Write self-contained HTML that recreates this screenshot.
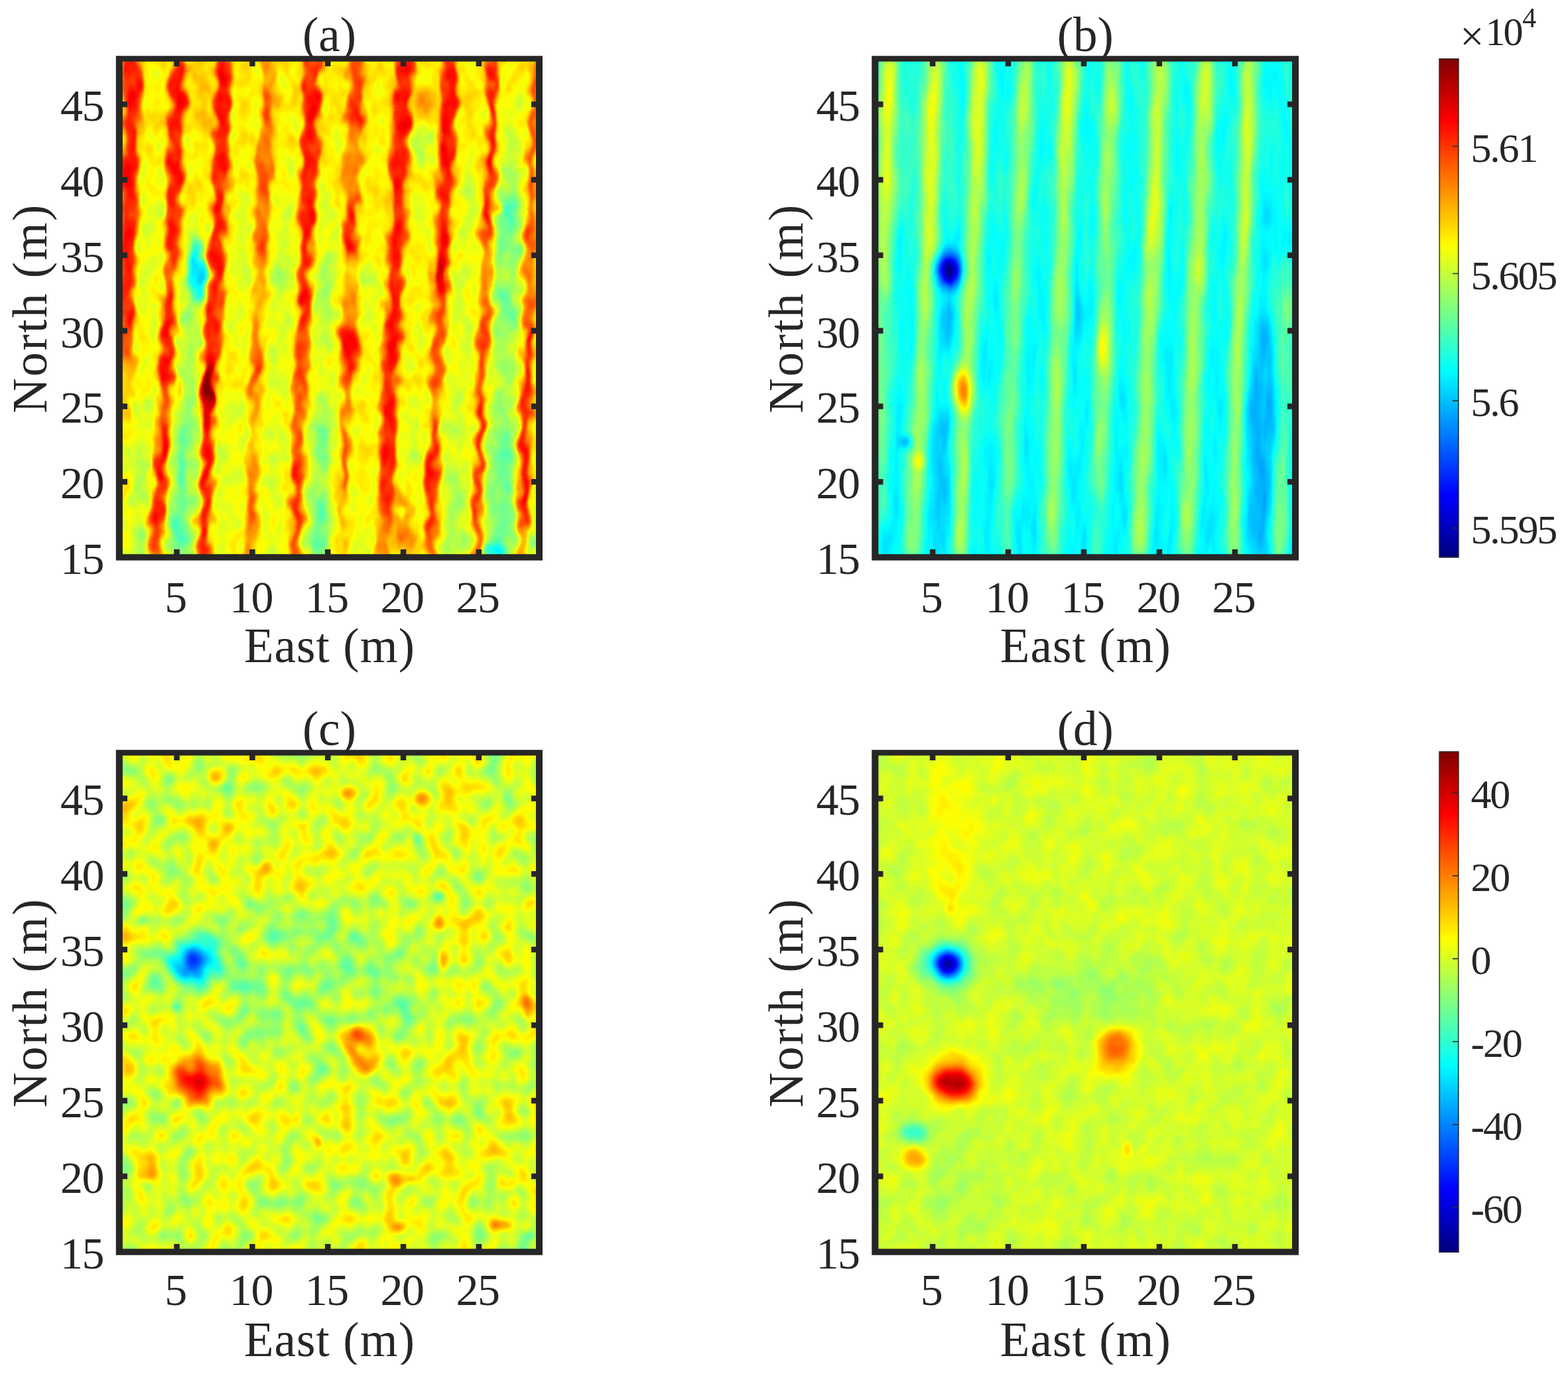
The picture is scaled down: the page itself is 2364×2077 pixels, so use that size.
<!DOCTYPE html>
<html lang="en"><head><meta charset="utf-8"><title>Figure</title>
<style>html,body{margin:0;padding:0;background:#fff}svg{display:block}text{font-family:"Liberation Serif", "DejaVu Serif", serif;fill:#262626}</style></head><body>
<svg width="2364" height="2077" viewBox="0 0 2364 2077" role="img" aria-label="Four-panel magnetic survey map figure">
<defs>
<filter id="jet" filterUnits="userSpaceOnUse" x="2160" y="80" width="50" height="1820" color-interpolation-filters="sRGB"><feComponentTransfer><feFuncR type="table" tableValues="0 0 0 0 .5 1 1 1 .5"/><feFuncG type="table" tableValues="0 0 .5 1 1 1 .5 0 0"/><feFuncB type="table" tableValues=".5 1 1 1 .5 0 0 0 0"/></feComponentTransfer></filter>
<linearGradient id="cbg" x1="0" y1="0" x2="0" y2="1"><stop offset="0" stop-color="#fff"/><stop offset="1" stop-color="#000"/></linearGradient>
<clipPath id="cpa"><rect x="180" y="89" width="633" height="751"/></clipPath>
<clipPath id="cpb"><rect x="1319.5" y="89" width="633.5" height="751"/></clipPath>
<clipPath id="cpc"><rect x="180" y="1135" width="633" height="752"/></clipPath>
<clipPath id="cpd"><rect x="1319.5" y="1135" width="633.5" height="752"/></clipPath>
<linearGradient id="basea" x1="0" y1="89" x2="0" y2="840" gradientUnits="userSpaceOnUse"><stop offset="0" stop-color="#a3a3a3"/><stop offset="1" stop-color="#9e9e9e"/></linearGradient>
<filter id="ja" filterUnits="userSpaceOnUse" x="178" y="87" width="637" height="755" color-interpolation-filters="sRGB"><feTurbulence type="fractalNoise" baseFrequency="0.05 0.03" numOctaves="2" seed="7" result="n0"/><feColorMatrix in="n0" type="matrix" values="1 0 0 0 0 1 0 0 0 0 1 0 0 0 0 0 0 0 0 1" result="g0"/><feComposite in="SourceGraphic" in2="g0" operator="arithmetic" k1="0" k2="1" k3="0.13" k4="-0.065" result="s0"/><feComponentTransfer in="s0"><feFuncR type="table" tableValues="0 0 0 0 .5 1 1 1 .5"/><feFuncG type="table" tableValues="0 0 .5 1 1 1 .5 0 0"/><feFuncB type="table" tableValues=".5 1 1 1 .5 0 0 0 0"/></feComponentTransfer></filter>
<linearGradient id="baseb" x1="0" y1="89" x2="0" y2="840" gradientUnits="userSpaceOnUse"><stop offset="0" stop-color="#656565"/><stop offset="1" stop-color="#5e5e5e"/></linearGradient>
<filter id="jb" filterUnits="userSpaceOnUse" x="1317.5" y="87" width="637.5" height="755" color-interpolation-filters="sRGB"><feTurbulence type="fractalNoise" baseFrequency="0.07 0.012" numOctaves="2" seed="11" result="n0"/><feColorMatrix in="n0" type="matrix" values="1 0 0 0 0 1 0 0 0 0 1 0 0 0 0 0 0 0 0 1" result="g0"/><feComposite in="SourceGraphic" in2="g0" operator="arithmetic" k1="0" k2="1" k3="0.09" k4="-0.045" result="s0"/><feComponentTransfer in="s0"><feFuncR type="table" tableValues="0 0 0 0 .5 1 1 1 .5"/><feFuncG type="table" tableValues="0 0 .5 1 1 1 .5 0 0"/><feFuncB type="table" tableValues=".5 1 1 1 .5 0 0 0 0"/></feComponentTransfer></filter>
<linearGradient id="basec" x1="0" y1="1135" x2="0" y2="1887" gradientUnits="userSpaceOnUse"><stop offset="0" stop-color="#999999"/><stop offset="1" stop-color="#969696"/></linearGradient>
<filter id="jc" filterUnits="userSpaceOnUse" x="178" y="1133" width="637" height="756" color-interpolation-filters="sRGB"><feTurbulence type="fractalNoise" baseFrequency="0.045 0.04" numOctaves="1" seed="12" result="n0"/><feColorMatrix in="n0" type="matrix" values="1 0 0 0 0 1 0 0 0 0 1 0 0 0 0 0 0 0 0 1" result="g0"/><feComposite in="SourceGraphic" in2="g0" operator="arithmetic" k1="0" k2="1" k3="0.28" k4="-0.14" result="s0"/><feTurbulence type="fractalNoise" baseFrequency="0.014 0.014" numOctaves="1" seed="2" result="n1"/><feColorMatrix in="n1" type="matrix" values="1 0 0 0 0 1 0 0 0 0 1 0 0 0 0 0 0 0 0 1" result="g1"/><feComposite in="s0" in2="g1" operator="arithmetic" k1="0" k2="1" k3="0.16" k4="-0.08" result="s1"/><feComponentTransfer in="s1"><feFuncR type="table" tableValues="0 0 0 0 .5 1 1 1 .5"/><feFuncG type="table" tableValues="0 0 .5 1 1 1 .5 0 0"/><feFuncB type="table" tableValues=".5 1 1 1 .5 0 0 0 0"/></feComponentTransfer></filter>
<linearGradient id="based" x1="0" y1="1135" x2="0" y2="1887" gradientUnits="userSpaceOnUse"><stop offset="0" stop-color="#959595"/><stop offset="1" stop-color="#949494"/></linearGradient>
<filter id="jd" filterUnits="userSpaceOnUse" x="1317.5" y="1133" width="637.5" height="756" color-interpolation-filters="sRGB"><feTurbulence type="fractalNoise" baseFrequency="0.035 0.03" numOctaves="2" seed="9" result="n0"/><feColorMatrix in="n0" type="matrix" values="1 0 0 0 0 1 0 0 0 0 1 0 0 0 0 0 0 0 0 1" result="g0"/><feComposite in="SourceGraphic" in2="g0" operator="arithmetic" k1="0" k2="1" k3="0.1" k4="-0.05" result="s0"/><feComponentTransfer in="s0"><feFuncR type="table" tableValues="0 0 0 0 .5 1 1 1 .5"/><feFuncG type="table" tableValues="0 0 .5 1 1 1 .5 0 0"/><feFuncB type="table" tableValues=".5 1 1 1 .5 0 0 0 0"/></feComponentTransfer></filter>
<filter id="bl3_5_9" filterUnits="userSpaceOnUse" x="0" y="0" width="2364" height="2077" color-interpolation-filters="sRGB"><feGaussianBlur stdDeviation="3.5 9"/></filter>
<filter id="bl4_4" filterUnits="userSpaceOnUse" x="0" y="0" width="2364" height="2077" color-interpolation-filters="sRGB"><feGaussianBlur stdDeviation="4 4"/></filter>
<filter id="bl4_5" filterUnits="userSpaceOnUse" x="0" y="0" width="2364" height="2077" color-interpolation-filters="sRGB"><feGaussianBlur stdDeviation="4 5"/></filter>
<filter id="bl4_5_5" filterUnits="userSpaceOnUse" x="0" y="0" width="2364" height="2077" color-interpolation-filters="sRGB"><feGaussianBlur stdDeviation="4.5 5"/></filter>
<filter id="bl4_5_9" filterUnits="userSpaceOnUse" x="0" y="0" width="2364" height="2077" color-interpolation-filters="sRGB"><feGaussianBlur stdDeviation="4.5 9"/></filter>
<filter id="bl4_5_12" filterUnits="userSpaceOnUse" x="0" y="0" width="2364" height="2077" color-interpolation-filters="sRGB"><feGaussianBlur stdDeviation="4.5 12"/></filter>
<filter id="bl5_5" filterUnits="userSpaceOnUse" x="0" y="0" width="2364" height="2077" color-interpolation-filters="sRGB"><feGaussianBlur stdDeviation="5 5"/></filter>
<filter id="bl5_6" filterUnits="userSpaceOnUse" x="0" y="0" width="2364" height="2077" color-interpolation-filters="sRGB"><feGaussianBlur stdDeviation="5 6"/></filter>
<filter id="bl5_8" filterUnits="userSpaceOnUse" x="0" y="0" width="2364" height="2077" color-interpolation-filters="sRGB"><feGaussianBlur stdDeviation="5 8"/></filter>
<filter id="bl6_6" filterUnits="userSpaceOnUse" x="0" y="0" width="2364" height="2077" color-interpolation-filters="sRGB"><feGaussianBlur stdDeviation="6 6"/></filter>
<filter id="bl6_8" filterUnits="userSpaceOnUse" x="0" y="0" width="2364" height="2077" color-interpolation-filters="sRGB"><feGaussianBlur stdDeviation="6 8"/></filter>
<filter id="bl6_9" filterUnits="userSpaceOnUse" x="0" y="0" width="2364" height="2077" color-interpolation-filters="sRGB"><feGaussianBlur stdDeviation="6 9"/></filter>
<filter id="bl6_10" filterUnits="userSpaceOnUse" x="0" y="0" width="2364" height="2077" color-interpolation-filters="sRGB"><feGaussianBlur stdDeviation="6 10"/></filter>
<filter id="bl7_7" filterUnits="userSpaceOnUse" x="0" y="0" width="2364" height="2077" color-interpolation-filters="sRGB"><feGaussianBlur stdDeviation="7 7"/></filter>
<filter id="bl7_8" filterUnits="userSpaceOnUse" x="0" y="0" width="2364" height="2077" color-interpolation-filters="sRGB"><feGaussianBlur stdDeviation="7 8"/></filter>
<filter id="bl7_12" filterUnits="userSpaceOnUse" x="0" y="0" width="2364" height="2077" color-interpolation-filters="sRGB"><feGaussianBlur stdDeviation="7 12"/></filter>
<filter id="bl7_14" filterUnits="userSpaceOnUse" x="0" y="0" width="2364" height="2077" color-interpolation-filters="sRGB"><feGaussianBlur stdDeviation="7 14"/></filter>
<filter id="bl8_8" filterUnits="userSpaceOnUse" x="0" y="0" width="2364" height="2077" color-interpolation-filters="sRGB"><feGaussianBlur stdDeviation="8 8"/></filter>
<filter id="bl9_9" filterUnits="userSpaceOnUse" x="0" y="0" width="2364" height="2077" color-interpolation-filters="sRGB"><feGaussianBlur stdDeviation="9 9"/></filter>
<filter id="bl9_14" filterUnits="userSpaceOnUse" x="0" y="0" width="2364" height="2077" color-interpolation-filters="sRGB"><feGaussianBlur stdDeviation="9 14"/></filter>
<filter id="bl10_10" filterUnits="userSpaceOnUse" x="0" y="0" width="2364" height="2077" color-interpolation-filters="sRGB"><feGaussianBlur stdDeviation="10 10"/></filter>
<filter id="bl12_12" filterUnits="userSpaceOnUse" x="0" y="0" width="2364" height="2077" color-interpolation-filters="sRGB"><feGaussianBlur stdDeviation="12 12"/></filter>
<filter id="bl14_20" filterUnits="userSpaceOnUse" x="0" y="0" width="2364" height="2077" color-interpolation-filters="sRGB"><feGaussianBlur stdDeviation="14 20"/></filter>
<filter id="bl15_15" filterUnits="userSpaceOnUse" x="0" y="0" width="2364" height="2077" color-interpolation-filters="sRGB"><feGaussianBlur stdDeviation="15 15"/></filter>
<filter id="bl18_18" filterUnits="userSpaceOnUse" x="0" y="0" width="2364" height="2077" color-interpolation-filters="sRGB"><feGaussianBlur stdDeviation="18 18"/></filter>
<filter id="bl25_25" filterUnits="userSpaceOnUse" x="0" y="0" width="2364" height="2077" color-interpolation-filters="sRGB"><feGaussianBlur stdDeviation="25 25"/></filter>
<filter id="bl30_40" filterUnits="userSpaceOnUse" x="0" y="0" width="2364" height="2077" color-interpolation-filters="sRGB"><feGaussianBlur stdDeviation="30 40"/></filter>
<filter id="bl40_40" filterUnits="userSpaceOnUse" x="0" y="0" width="2364" height="2077" color-interpolation-filters="sRGB"><feGaussianBlur stdDeviation="40 40"/></filter>
<filter id="wa" filterUnits="userSpaceOnUse" x="160" y="69" width="673" height="791" color-interpolation-filters="sRGB"><feTurbulence type="fractalNoise" baseFrequency="0.055 0.035" numOctaves="1" seed="4" result="t"/><feDisplacementMap in="SourceGraphic" in2="t" scale="26" xChannelSelector="R" yChannelSelector="G"/></filter>
<filter id="wb" filterUnits="userSpaceOnUse" x="1299.5" y="69" width="673.5" height="791" color-interpolation-filters="sRGB"><feTurbulence type="fractalNoise" baseFrequency="0.05 0.02" numOctaves="1" seed="8" result="t"/><feDisplacementMap in="SourceGraphic" in2="t" scale="6" xChannelSelector="R" yChannelSelector="G"/></filter>
</defs>
<rect width="2364" height="2077" fill="#fff"/>
<g id="panel-a">
<g clip-path="url(#cpa)"><g filter="url(#ja)">
<rect x="150" y="59" width="693" height="811" fill="url(#basea)"/>
<g filter="url(#wa)">
<g filter="url(#bl3_5_9)" fill="none">
<path stroke="#fff" stroke-opacity=".59" stroke-width="27" d="M201.4 80L201 93L193.2 335"/>
<path stroke="#fff" stroke-opacity=".59" stroke-width="24" d="M193.2 335L193 340L190 491"/>
<path stroke="#fff" stroke-opacity=".46" stroke-width="24" d="M190 491L188.9 543"/>
<path stroke="#fff" stroke-opacity=".17" stroke-width="24" d="M188.9 543L188.1 585"/>
<path stroke="#fff" stroke-opacity=".17" stroke-width="21" d="M188.1 585L188 590L187 637"/>
<path stroke="#fff" stroke-opacity=".59" stroke-width="24" d="M268.9 80L268.5 93L261.2 335"/>
<path stroke="#fff" stroke-opacity=".59" stroke-width="21" d="M261.2 335L261 340L258.7 387"/>
<path stroke="#fff" stroke-opacity=".46" stroke-width="21" d="M258.7 387L256.2 439"/>
<path stroke="#fff" stroke-opacity=".60" stroke-width="21" d="M256.2 439L249.2 585"/>
<path stroke="#fff" stroke-opacity=".46" stroke-width="18" d="M249.2 585L249 590L246.3 637"/>
<path stroke="#fff" stroke-opacity=".60" stroke-width="18" d="M246.3 637L237.4 793"/>
<path stroke="#fff" stroke-opacity=".47" stroke-width="18" d="M237.4 793L235 835L234.4 845"/>
<path stroke="#fff" stroke-opacity=".59" stroke-width="24" d="M338.4 80L338 93L330.2 335"/>
<path stroke="#fff" stroke-opacity=".59" stroke-width="21" d="M330.2 335L330 340L317.8 543"/>
<path stroke="#fff" stroke-opacity=".81" stroke-width="21" d="M317.8 543L315.3 585"/>
<path stroke="#fff" stroke-opacity=".81" stroke-width="18" d="M315.3 585L315 590L313.5 637"/>
<path stroke="#fff" stroke-opacity=".60" stroke-width="18" d="M313.5 637L307 835L306.7 845"/>
<path stroke="#fff" stroke-opacity=".28" stroke-width="21" d="M407.6 80L407 93L405 137"/>
<path stroke="#fff" stroke-opacity=".45" stroke-width="21" d="M405 137L402.7 189"/>
<path stroke="#fff" stroke-opacity=".28" stroke-width="21" d="M402.7 189L400.4 241"/>
<path stroke="#fff" stroke-opacity=".45" stroke-width="21" d="M400.4 241L398.1 293"/>
<path stroke="#fff" stroke-opacity=".29" stroke-width="21" d="M398.1 293L396.2 335"/>
<path stroke="#fff" stroke-opacity=".46" stroke-width="18" d="M396.2 335L396 340L393.7 387"/>
<path stroke="#fff" stroke-opacity=".29" stroke-width="18" d="M393.7 387L391.2 439"/>
<path stroke="#fff" stroke-opacity=".16" stroke-width="18" d="M391.2 439L388.8 491"/>
<path stroke="#fff" stroke-opacity=".30" stroke-width="18" d="M388.8 491L386.3 543"/>
<path stroke="#fff" stroke-opacity=".46" stroke-width="18" d="M386.3 543L384.2 585"/>
<path stroke="#fff" stroke-opacity=".30" stroke-width="15" d="M384.2 585L384 590L382.3 637"/>
<path stroke="#fff" stroke-opacity=".17" stroke-width="15" d="M382.3 637L380.4 689"/>
<path stroke="#fff" stroke-opacity=".31" stroke-width="15" d="M380.4 689L378.5 741"/>
<path stroke="#fff" stroke-opacity=".47" stroke-width="15" d="M378.5 741L376.5 793"/>
<path stroke="#fff" stroke-opacity=".32" stroke-width="15" d="M376.5 793L375 835L374.6 845"/>
<path stroke="#fff" stroke-opacity=".59" stroke-width="24" d="M472.5 80L472 93L463.2 335"/>
<path stroke="#fff" stroke-opacity=".59" stroke-width="18" d="M463.2 335L463 340L457 491"/>
<path stroke="#fff" stroke-opacity=".46" stroke-width="18" d="M457 491L453.2 585"/>
<path stroke="#fff" stroke-opacity=".47" stroke-width="15" d="M453.2 585L453 590L449.6 689"/>
<path stroke="#fff" stroke-opacity=".60" stroke-width="15" d="M449.6 689L446 793"/>
<path stroke="#fff" stroke-opacity=".47" stroke-width="15" d="M446 793L444.5 835L444.2 845"/>
<path stroke="#fff" stroke-opacity=".45" stroke-width="21" d="M538.5 80L538 93L536.3 137"/>
<path stroke="#fff" stroke-opacity=".59" stroke-width="21" d="M536.3 137L534.3 189"/>
<path stroke="#fff" stroke-opacity=".29" stroke-width="21" d="M534.3 189L530.3 293"/>
<path stroke="#fff" stroke-opacity=".59" stroke-width="21" d="M530.3 293L528.5 340L527.5 387"/>
<path stroke="#fff" stroke-opacity=".16" stroke-width="21" d="M527.5 387L526.3 439"/>
<path stroke="#fff" stroke-opacity=".30" stroke-width="21" d="M526.3 439L525.2 491"/>
<path stroke="#fff" stroke-opacity=".46" stroke-width="21" d="M525.2 491L523.1 585"/>
<path stroke="#fff" stroke-opacity=".30" stroke-width="12" d="M523.1 585L523 590L521.3 637"/>
<path stroke="#fff" stroke-opacity=".47" stroke-width="12" d="M521.3 637L517.5 741"/>
<path stroke="#fff" stroke-opacity=".18" stroke-width="12" d="M517.5 741L514 835L513.6 845"/>
<path stroke="#fff" stroke-opacity=".59" stroke-width="27" d="M609.5 80L609 93L599.7 335"/>
<path stroke="#fff" stroke-opacity=".59" stroke-width="24" d="M599.7 335L599.5 340L588.2 585"/>
<path stroke="#fff" stroke-opacity=".60" stroke-width="21" d="M588.2 585L588 590L581.2 741"/>
<path stroke="#fff" stroke-opacity=".47" stroke-width="21" d="M581.2 741L578.9 793"/>
<path stroke="#fff" stroke-opacity=".32" stroke-width="21" d="M578.9 793L577 835L576.6 845"/>
<path stroke="#fff" stroke-opacity=".59" stroke-width="24" d="M679 80L678.5 93L669.2 335"/>
<path stroke="#fff" stroke-opacity=".59" stroke-width="18" d="M669.2 335L669 340L666.7 387"/>
<path stroke="#fff" stroke-opacity=".81" stroke-width="18" d="M666.7 387L664.2 439"/>
<path stroke="#fff" stroke-opacity=".46" stroke-width="18" d="M664.2 439L657.2 585"/>
<path stroke="#fff" stroke-opacity=".30" stroke-width="15" d="M657.2 585L657 590L655.3 637"/>
<path stroke="#fff" stroke-opacity=".60" stroke-width="15" d="M655.3 637L649.5 793"/>
<path stroke="#fff" stroke-opacity=".47" stroke-width="15" d="M649.5 793L648 835L647.6 845"/>
<path stroke="#fff" stroke-opacity=".59" stroke-width="15" d="M745.5 80L745 93L736.2 335"/>
<path stroke="#fff" stroke-opacity=".46" stroke-width="15" d="M736.2 335L736 340L733.9 387"/>
<path stroke="#fff" stroke-opacity=".29" stroke-width="15" d="M733.9 387L731.6 439"/>
<path stroke="#fff" stroke-opacity=".46" stroke-width="15" d="M731.6 439L725.2 585"/>
<path stroke="#fff" stroke-opacity=".60" stroke-width="12" d="M725.2 585L725 590L720 793"/>
<path stroke="#fff" stroke-opacity=".47" stroke-width="12" d="M720 793L719 835L718.8 845"/>
<path stroke="#fff" stroke-opacity=".45" stroke-width="12" d="M808.4 80L808 93L800.2 335"/>
<path stroke="#fff" stroke-opacity=".46" stroke-width="15" d="M800.2 335L800 340L798.9 387"/>
<path stroke="#fff" stroke-opacity=".29" stroke-width="15" d="M798.9 387L797.6 439"/>
<path stroke="#fff" stroke-opacity=".46" stroke-width="15" d="M797.6 439L796.4 491"/>
<path stroke="#fff" stroke-opacity=".60" stroke-width="15" d="M796.4 491L794 590L788.2 793"/>
<path stroke="#fff" stroke-opacity=".32" stroke-width="15" d="M788.2 793L787 835L786.7 845"/>
</g>
<g filter="url(#bl7_12)" fill="none">
<path stroke="#000" stroke-opacity=".05" stroke-width="26" d="M230.1 241L227 340L221.9 491"/>
<path stroke="#000" stroke-opacity=".04" stroke-width="26" d="M218.7 585L218.5 590L214.7 689"/>
<path stroke="#000" stroke-opacity=".13" stroke-width="26" d="M214.7 689L212.6 741"/>
<path stroke="#000" stroke-opacity=".04" stroke-width="26" d="M212.6 741L210.6 793"/>
<path stroke="#000" stroke-opacity=".12" stroke-width="26" d="M210.6 793L209 835L208.6 845"/>
<path stroke="#fff" stroke-opacity=".11" stroke-width="30" d="M303.7 80L303.2 93L300.2 189"/>
<path stroke="#000" stroke-opacity=".05" stroke-width="30" d="M295.7 335L295.5 340L293 387"/>
<path stroke="#000" stroke-opacity=".13" stroke-width="30" d="M293 387L282 590L279.9 637"/>
<path stroke="#000" stroke-opacity=".23" stroke-width="30" d="M279.9 637L271 835L270.6 845"/>
<path stroke="#000" stroke-opacity=".05" stroke-width="26" d="M364.8 293L363 340L354.8 491"/>
<path stroke="#000" stroke-opacity=".04" stroke-width="26" d="M349.8 585L349.5 590L341 835L340.7 845"/>
<path stroke="#000" stroke-opacity=".05" stroke-width="26" d="M433.5 241L429.5 340L427.4 387"/>
<path stroke="#000" stroke-opacity=".14" stroke-width="26" d="M427.4 387L425.1 439"/>
<path stroke="#000" stroke-opacity=".05" stroke-width="26" d="M425.1 439L418.7 585"/>
<path stroke="#000" stroke-opacity=".04" stroke-width="26" d="M416.8 637L409.8 835L409.4 845"/>
<path stroke="#000" stroke-opacity=".05" stroke-width="28" d="M497.5 293L495.8 340L494.3 387"/>
<path stroke="#000" stroke-opacity=".14" stroke-width="28" d="M494.3 387L491.1 491"/>
<path stroke="#000" stroke-opacity=".04" stroke-width="28" d="M491.1 491L488.2 585"/>
<path stroke="#000" stroke-opacity=".13" stroke-width="28" d="M488.2 585L488 590L486.3 637"/>
<path stroke="#000" stroke-opacity=".23" stroke-width="28" d="M486.3 637L484.5 689"/>
<path stroke="#000" stroke-opacity=".13" stroke-width="28" d="M484.5 689L482.6 741"/>
<path stroke="#000" stroke-opacity=".23" stroke-width="28" d="M482.6 741L479.2 835L478.9 845"/>
<path stroke="#000" stroke-opacity=".05" stroke-width="26" d="M562.4 387L558.9 491"/>
<path stroke="#000" stroke-opacity=".03" stroke-width="26" d="M547.2 793L545.5 835L545.1 845"/>
<path stroke="#fff" stroke-opacity=".23" stroke-width="28" d="M642.1 137L640.1 189"/>
<path stroke="#000" stroke-opacity=".14" stroke-width="28" d="M640.1 189L638.1 241"/>
<path stroke="#000" stroke-opacity=".05" stroke-width="28" d="M636.1 293L634.4 335"/>
<path stroke="#000" stroke-opacity=".04" stroke-width="28" d="M622.7 585L622.5 590L616.3 741"/>
<path stroke="#fff" stroke-opacity=".26" stroke-width="28" d="M614.2 793L612.5 835L612.1 845"/>
<path stroke="#000" stroke-opacity=".05" stroke-width="28" d="M706.2 241L702.5 340L691 590L688 689"/>
<path stroke="#000" stroke-opacity=".12" stroke-width="28" d="M688 689L683.5 835L683.2 845"/>
<path stroke="#000" stroke-opacity=".06" stroke-width="34" d="M775 137L771.4 241"/>
<path stroke="#000" stroke-opacity=".14" stroke-width="34" d="M771.4 241L769.6 293"/>
<path stroke="#000" stroke-opacity=".24" stroke-width="34" d="M769.6 293L768 340L766.4 387"/>
<path stroke="#000" stroke-opacity=".14" stroke-width="34" d="M766.4 387L764.6 439"/>
<path stroke="#000" stroke-opacity=".24" stroke-width="34" d="M764.6 439L762.9 491"/>
<path stroke="#000" stroke-opacity=".13" stroke-width="34" d="M762.9 491L759.5 590L758.3 637"/>
<path stroke="#000" stroke-opacity=".23" stroke-width="34" d="M758.3 637L753 835L752.7 845"/>
</g>
<g filter="url(#bl6_10)" fill="none">
<ellipse fill="#000" fill-opacity=".40" cx="296" cy="408" rx="15" ry="42"/>
</g>
<g filter="url(#bl4_5_9)" fill="none">
<ellipse fill="#fff" fill-opacity=".87" cx="313" cy="585" rx="9" ry="30"/>
<ellipse fill="#fff" fill-opacity=".38" cx="530" cy="522" rx="13" ry="38"/>
</g>
<g filter="url(#bl7_8)" fill="none">
<ellipse fill="#000" fill-opacity=".26" cx="745" cy="830" rx="16" ry="12"/>
<ellipse fill="#000" fill-opacity=".24" cx="801" cy="818" rx="8" ry="14"/>
</g>
<g filter="url(#bl6_8)" fill="none">
<ellipse fill="#fff" fill-opacity=".26" cx="603" cy="770" rx="20" ry="40"/>
</g>
<g filter="url(#bl4_5)" fill="none">
<ellipse fill="#fff" fill-opacity=".28" cx="273" cy="583" rx="7" ry="16"/>
<ellipse fill="#000" fill-opacity=".19" cx="606" cy="773" rx="8" ry="12"/>
</g>
</g>
</g></g>
<path fill="#262626" fill-rule="evenodd" d="M174.8 84.3H818V844.8H174.8ZM184.9 92.8H808V835.2H184.9Z"/>
<path d="M266.5 840.0v-12M266.5 89.0v11M380.4 840.0v-12M380.4 89.0v11M494.2 840.0v-12M494.2 89.0v11M608.1 840.0v-12M608.1 89.0v11M721.9 840.0v-12M721.9 89.0v11M180.0 726.2h12M813.0 726.2h-12M180.0 612.4h12M813.0 612.4h-12M180.0 498.6h12M813.0 498.6h-12M180.0 384.8h12M813.0 384.8h-12M180.0 271.1h12M813.0 271.1h-12M180.0 157.3h12M813.0 157.3h-12" stroke="#262626" stroke-width="8.5" fill="none"/>
<g font-size="68" letter-spacing="-1.5">
<g text-anchor="middle">
<text x="264.5" y="922.5">5</text>
<text x="378.4" y="922.5">10</text>
<text x="492.2" y="922.5">15</text>
<text x="606.1" y="922.5">20</text>
<text x="719.9" y="922.5">25</text>
</g><g text-anchor="end">
<text x="156.0" y="865.0">15</text>
<text x="156.0" y="751.2">20</text>
<text x="156.0" y="637.4">25</text>
<text x="156.0" y="523.6">30</text>
<text x="156.0" y="409.8">35</text>
<text x="156.0" y="296.1">40</text>
<text x="156.0" y="182.3">45</text>
</g></g>
<g font-size="73" text-anchor="middle">
<text x="496.5" y="77.0">(a)</text>
<text x="497.0" y="998.0" letter-spacing="1.1">East (m)</text>
<text transform="translate(70.0 464.5) rotate(-90)" letter-spacing="2.5">North (m)</text>
</g>
</g>
<g id="panel-b">
<g clip-path="url(#cpb)"><g filter="url(#jb)">
<rect x="1289.5" y="59" width="693.5" height="811" fill="url(#baseb)"/>
<g filter="url(#wb)">
<g filter="url(#bl7_14)" fill="none">
<path stroke="#fff" stroke-opacity=".36" stroke-width="24" d="M1341.4 80L1341 93L1337.9 189"/>
<path stroke="#fff" stroke-opacity=".32" stroke-width="24" d="M1337.9 189L1333.2 335"/>
<path stroke="#fff" stroke-opacity=".26" stroke-width="24" d="M1333.2 335L1333 340L1331 439"/>
<path stroke="#fff" stroke-opacity=".19" stroke-width="24" d="M1331 439L1328 590L1326 689"/>
<path stroke="#fff" stroke-opacity=".12" stroke-width="24" d="M1326 689L1323.9 793"/>
<path stroke="#fff" stroke-opacity=".31" stroke-width="24" d="M1408.9 80L1408.5 93L1407.2 137"/>
<path stroke="#fff" stroke-opacity=".36" stroke-width="24" d="M1407.2 137L1405.6 189"/>
<path stroke="#fff" stroke-opacity=".32" stroke-width="24" d="M1405.6 189L1401 340L1398.7 387"/>
<path stroke="#fff" stroke-opacity=".26" stroke-width="24" d="M1398.7 387L1393.8 491"/>
<path stroke="#fff" stroke-opacity=".19" stroke-width="24" d="M1393.8 491L1391.3 543"/>
<path stroke="#fff" stroke-opacity=".27" stroke-width="24" d="M1391.3 543L1389 590L1375 835L1374.4 845"/>
<path stroke="#fff" stroke-opacity=".36" stroke-width="24" d="M1478.4 80L1478 93L1474.9 189"/>
<path stroke="#fff" stroke-opacity=".32" stroke-width="24" d="M1474.9 189L1470.2 335"/>
<path stroke="#fff" stroke-opacity=".27" stroke-width="24" d="M1470.2 335L1470 340L1455 590L1447 835L1446.7 845"/>
<path stroke="#fff" stroke-opacity=".25" stroke-width="22" d="M1547.6 80L1547 93L1545 137"/>
<path stroke="#fff" stroke-opacity=".32" stroke-width="22" d="M1545 137L1542.7 189"/>
<path stroke="#fff" stroke-opacity=".26" stroke-width="22" d="M1542.7 189L1536.2 335"/>
<path stroke="#fff" stroke-opacity=".19" stroke-width="22" d="M1536.2 335L1536 340L1533.7 387"/>
<path stroke="#fff" stroke-opacity=".26" stroke-width="22" d="M1533.7 387L1531.2 439"/>
<path stroke="#fff" stroke-opacity=".20" stroke-width="22" d="M1531.2 439L1524 590L1518.5 741"/>
<path stroke="#fff" stroke-opacity=".13" stroke-width="22" d="M1518.5 741L1515 835L1514.6 845"/>
<path stroke="#fff" stroke-opacity=".36" stroke-width="24" d="M1612.5 80L1612 93L1608.5 189"/>
<path stroke="#fff" stroke-opacity=".32" stroke-width="24" d="M1608.5 189L1604.7 293"/>
<path stroke="#fff" stroke-opacity=".26" stroke-width="24" d="M1604.7 293L1603 340L1597 491"/>
<path stroke="#fff" stroke-opacity=".19" stroke-width="24" d="M1597 491L1594.9 543"/>
<path stroke="#fff" stroke-opacity=".27" stroke-width="24" d="M1594.9 543L1593 590L1586 793"/>
<path stroke="#fff" stroke-opacity=".21" stroke-width="24" d="M1586 793L1584.5 835L1584.2 845"/>
<path stroke="#fff" stroke-opacity=".25" stroke-width="22" d="M1678.5 80L1678 93L1676.3 137"/>
<path stroke="#fff" stroke-opacity=".32" stroke-width="22" d="M1676.3 137L1674.3 189"/>
<path stroke="#fff" stroke-opacity=".26" stroke-width="22" d="M1674.3 189L1668.7 335"/>
<path stroke="#fff" stroke-opacity=".19" stroke-width="22" d="M1668.7 335L1668.5 340L1666.3 439"/>
<path stroke="#fff" stroke-opacity=".26" stroke-width="22" d="M1666.3 439L1665.2 491"/>
<path stroke="#fff" stroke-opacity=".33" stroke-width="22" d="M1665.2 491L1664 543"/>
<path stroke="#fff" stroke-opacity=".27" stroke-width="22" d="M1664 543L1663.1 585"/>
<path stroke="#fff" stroke-opacity=".20" stroke-width="22" d="M1663.1 585L1663 590L1661.3 637"/>
<path stroke="#fff" stroke-opacity=".27" stroke-width="22" d="M1661.3 637L1659.4 689"/>
<path stroke="#fff" stroke-opacity=".20" stroke-width="22" d="M1659.4 689L1657.5 741"/>
<path stroke="#fff" stroke-opacity=".13" stroke-width="22" d="M1657.5 741L1654 835L1653.6 845"/>
<path stroke="#fff" stroke-opacity=".32" stroke-width="24" d="M1749.5 80L1749 93L1741.3 293"/>
<path stroke="#fff" stroke-opacity=".36" stroke-width="24" d="M1741.3 293L1739.5 340L1737.3 387"/>
<path stroke="#fff" stroke-opacity=".27" stroke-width="24" d="M1737.3 387L1728 590L1717 835L1716.6 845"/>
<path stroke="#fff" stroke-opacity=".32" stroke-width="24" d="M1819 80L1818.5 93L1814.8 189"/>
<path stroke="#fff" stroke-opacity=".26" stroke-width="24" d="M1814.8 189L1809 340L1806.7 387"/>
<path stroke="#fff" stroke-opacity=".33" stroke-width="24" d="M1806.7 387L1804.2 439"/>
<path stroke="#fff" stroke-opacity=".27" stroke-width="24" d="M1804.2 439L1797 590L1789.5 793"/>
<path stroke="#fff" stroke-opacity=".21" stroke-width="24" d="M1789.5 793L1788 835L1787.6 845"/>
<path stroke="#fff" stroke-opacity=".32" stroke-width="22" d="M1885.5 80L1885 93L1876 340L1873.9 387"/>
<path stroke="#fff" stroke-opacity=".27" stroke-width="22" d="M1873.9 387L1865 590L1859 835L1858.8 845"/>
<path stroke="#fff" stroke-opacity=".11" stroke-width="20" d="M1938.9 387L1937.6 439"/>
<path stroke="#fff" stroke-opacity=".19" stroke-width="20" d="M1937.6 439L1934 590L1931.2 689"/>
<path stroke="#fff" stroke-opacity=".28" stroke-width="20" d="M1931.2 689L1927 835L1926.7 845"/>
</g>
<g filter="url(#bl30_40)" fill="none">
<ellipse fill="#fff" fill-opacity=".08" cx="1385" cy="230" rx="50" ry="110"/>
</g>
<g filter="url(#bl9_14)" fill="none">
<ellipse fill="#000" fill-opacity=".18" cx="1905" cy="660" rx="26" ry="190"/>
</g>
<g filter="url(#bl7_12)" fill="none">
<ellipse fill="#000" fill-opacity=".15" cx="1912" cy="315" rx="10" ry="32"/>
<ellipse fill="#000" fill-opacity=".14" cx="1420" cy="730" rx="14" ry="110"/>
<ellipse fill="#000" fill-opacity=".21" cx="1430" cy="490" rx="9" ry="45"/>
<ellipse fill="#fff" fill-opacity=".17" cx="1666" cy="530" rx="12" ry="34"/>
</g>
<g filter="url(#bl4_5_12)" fill="none">
<ellipse fill="#000" fill-opacity=".16" cx="1625" cy="480" rx="6" ry="40"/>
</g>
<g filter="url(#bl4_5_5)" fill="none">
<ellipse fill="#000" fill-opacity=".31" cx="1366.5" cy="666" rx="8" ry="10"/>
</g>
<g filter="url(#bl5_6)" fill="none">
<ellipse fill="#fff" fill-opacity=".20" cx="1384" cy="694" rx="10" ry="13"/>
</g>
<g filter="url(#bl7_8)" fill="none">
<ellipse fill="#000" fill-opacity=".48" cx="1430.5" cy="408" rx="20" ry="32"/>
</g>
<g filter="url(#bl6_6)" fill="none">
<ellipse fill="#000" fill-opacity=".90" cx="1430.5" cy="408" rx="12" ry="17"/>
</g>
<g filter="url(#bl6_9)" fill="none">
<ellipse fill="#fff" fill-opacity=".24" cx="1452" cy="590" rx="17" ry="38"/>
</g>
<g filter="url(#bl5_8)" fill="none">
<ellipse fill="#fff" fill-opacity=".32" cx="1451" cy="590" rx="9" ry="20"/>
</g>
</g>
</g></g>
<path fill="#262626" fill-rule="evenodd" d="M1314.3 84.3H1958V844.8H1314.3ZM1324.4 92.8H1948V835.2H1324.4Z"/>
<path d="M1406.1 840.0v-12M1406.1 89.0v11M1520.0 840.0v-12M1520.0 89.0v11M1634.0 840.0v-12M1634.0 89.0v11M1747.9 840.0v-12M1747.9 89.0v11M1861.8 840.0v-12M1861.8 89.0v11M1319.5 726.2h12M1953.0 726.2h-12M1319.5 612.4h12M1953.0 612.4h-12M1319.5 498.6h12M1953.0 498.6h-12M1319.5 384.8h12M1953.0 384.8h-12M1319.5 271.1h12M1953.0 271.1h-12M1319.5 157.3h12M1953.0 157.3h-12" stroke="#262626" stroke-width="8.5" fill="none"/>
<g font-size="68" letter-spacing="-1.5">
<g text-anchor="middle">
<text x="1404.1" y="922.5">5</text>
<text x="1518.0" y="922.5">10</text>
<text x="1632.0" y="922.5">15</text>
<text x="1745.9" y="922.5">20</text>
<text x="1859.8" y="922.5">25</text>
</g><g text-anchor="end">
<text x="1295.5" y="865.0">15</text>
<text x="1295.5" y="751.2">20</text>
<text x="1295.5" y="637.4">25</text>
<text x="1295.5" y="523.6">30</text>
<text x="1295.5" y="409.8">35</text>
<text x="1295.5" y="296.1">40</text>
<text x="1295.5" y="182.3">45</text>
</g></g>
<g font-size="73" text-anchor="middle">
<text x="1636.2" y="77.0">(b)</text>
<text x="1636.8" y="998.0" letter-spacing="1.1">East (m)</text>
<text transform="translate(1209.5 464.5) rotate(-90)" letter-spacing="2.5">North (m)</text>
</g>
</g>
<g id="panel-c">
<g clip-path="url(#cpc)"><g filter="url(#jc)">
<rect x="150" y="1105" width="693" height="812" fill="url(#basec)"/>
<g filter="url(#bl40_40)" fill="none">
<ellipse fill="#000" fill-opacity=".09" cx="496" cy="1470" rx="150" ry="110"/>
</g>
<g filter="url(#bl18_18)" fill="none">
<ellipse fill="#000" fill-opacity=".16" cx="300" cy="1450" rx="60" ry="45"/>
</g>
<g filter="url(#bl9_9)" fill="none">
<ellipse fill="#000" fill-opacity=".40" cx="290" cy="1451" rx="32" ry="30"/>
</g>
<g filter="url(#bl5_5)" fill="none">
<ellipse fill="#000" fill-opacity=".44" cx="291" cy="1451" rx="11" ry="11"/>
<ellipse fill="#fff" fill-opacity=".36" cx="541" cy="1561" rx="11" ry="11"/>
<ellipse fill="#fff" fill-opacity=".61" cx="480" cy="1721" rx="4" ry="10"/>
<ellipse fill="#fff" fill-opacity=".31" cx="603" cy="1776" rx="22" ry="10"/>
<ellipse fill="#fff" fill-opacity=".34" cx="764" cy="1783" rx="16" ry="10"/>
<ellipse fill="#fff" fill-opacity=".37" cx="603" cy="1850" rx="10" ry="8"/>
<ellipse fill="#fff" fill-opacity=".34" cx="754" cy="1847" rx="16" ry="8"/>
<ellipse fill="#000" fill-opacity=".32" cx="798" cy="1863" rx="6" ry="6"/>
<ellipse fill="#fff" fill-opacity=".36" cx="795" cy="1520" rx="6" ry="22"/>
<ellipse fill="#fff" fill-opacity=".28" cx="677" cy="1300" rx="8" ry="18"/>
<ellipse fill="#fff" fill-opacity=".41" cx="662" cy="1390" rx="5" ry="12"/>
<ellipse fill="#fff" fill-opacity=".33" cx="668" cy="1450" rx="6" ry="16"/>
<ellipse fill="#fff" fill-opacity=".25" cx="640" cy="1205" rx="14" ry="10"/>
<ellipse fill="#fff" fill-opacity=".25" cx="330" cy="1170" rx="14" ry="14"/>
<ellipse fill="#fff" fill-opacity=".25" cx="400" cy="1310" rx="10" ry="12"/>
<ellipse fill="#fff" fill-opacity=".25" cx="530" cy="1195" rx="14" ry="10"/>
<ellipse fill="#000" fill-opacity=".25" cx="215" cy="1388" rx="8" ry="6"/>
<ellipse fill="#000" fill-opacity=".29" cx="265" cy="1518" rx="7" ry="7"/>
<ellipse fill="#fff" fill-opacity=".22" cx="220" cy="1760" rx="16" ry="22"/>
<ellipse fill="#000" fill-opacity=".26" cx="630" cy="1262" rx="8" ry="10"/>
<ellipse fill="#000" fill-opacity=".26" cx="662" cy="1350" rx="8" ry="8"/>
</g>
<g filter="url(#bl8_8)" fill="none">
<ellipse fill="#fff" fill-opacity=".41" cx="299" cy="1629" rx="40" ry="34"/>
<ellipse fill="#fff" fill-opacity=".38" cx="544" cy="1581" rx="26" ry="40"/>
</g>
<g filter="url(#bl6_6)" fill="none">
<ellipse fill="#fff" fill-opacity=".37" cx="292" cy="1632" rx="27" ry="19"/>
</g>
<g filter="url(#bl4_4)" fill="none">
<ellipse fill="#000" fill-opacity=".17" cx="541" cy="1583" rx="4" ry="6"/>
</g>
</g></g>
<path fill="#262626" fill-rule="evenodd" d="M174.8 1130.3H818V1891.8H174.8ZM184.9 1138.8H808V1882.2H184.9Z"/>
<path d="M266.5 1887.0v-12M266.5 1135.0v11M380.4 1887.0v-12M380.4 1135.0v11M494.2 1887.0v-12M494.2 1135.0v11M608.1 1887.0v-12M608.1 1135.0v11M721.9 1887.0v-12M721.9 1135.0v11M180.0 1773.1h12M813.0 1773.1h-12M180.0 1659.1h12M813.0 1659.1h-12M180.0 1545.2h12M813.0 1545.2h-12M180.0 1431.2h12M813.0 1431.2h-12M180.0 1317.3h12M813.0 1317.3h-12M180.0 1203.4h12M813.0 1203.4h-12" stroke="#262626" stroke-width="8.5" fill="none"/>
<g font-size="68" letter-spacing="-1.5">
<g text-anchor="middle">
<text x="264.5" y="1967.0">5</text>
<text x="378.4" y="1967.0">10</text>
<text x="492.2" y="1967.0">15</text>
<text x="606.1" y="1967.0">20</text>
<text x="719.9" y="1967.0">25</text>
</g><g text-anchor="end">
<text x="156.0" y="1912.0">15</text>
<text x="156.0" y="1798.1">20</text>
<text x="156.0" y="1684.1">25</text>
<text x="156.0" y="1570.2">30</text>
<text x="156.0" y="1456.2">35</text>
<text x="156.0" y="1342.3">40</text>
<text x="156.0" y="1228.4">45</text>
</g></g>
<g font-size="73" text-anchor="middle">
<text x="496.5" y="1123.0">(c)</text>
<text x="497.0" y="2043.6" letter-spacing="1.1">East (m)</text>
<text transform="translate(70.0 1511.0) rotate(-90)" letter-spacing="2.5">North (m)</text>
</g>
</g>
<g id="panel-d">
<g clip-path="url(#cpd)"><g filter="url(#jd)">
<rect x="1289.5" y="1105" width="693.5" height="812" fill="url(#based)"/>
<g filter="url(#bl14_20)" fill="none">
<ellipse fill="#fff" fill-opacity=".10" cx="1436" cy="1268" rx="36" ry="128"/>
</g>
<g filter="url(#bl25_25)" fill="none">
<ellipse fill="#000" fill-opacity=".08" cx="1650" cy="1500" rx="110" ry="45"/>
<ellipse fill="#000" fill-opacity=".04" cx="1445" cy="1780" rx="50" ry="90"/>
</g>
<g filter="url(#bl15_15)" fill="none">
<ellipse fill="#000" fill-opacity=".14" cx="1429.5" cy="1453" rx="48" ry="44"/>
</g>
<g filter="url(#bl12_12)" fill="none">
<ellipse fill="#000" fill-opacity=".28" cx="1429.5" cy="1453" rx="30" ry="28"/>
<ellipse fill="#fff" fill-opacity=".11" cx="1439" cy="1630" rx="52" ry="46"/>
</g>
<g filter="url(#bl8_8)" fill="none">
<ellipse fill="#000" fill-opacity="1.00" cx="1429.5" cy="1453" rx="18" ry="17"/>
<ellipse fill="#fff" fill-opacity=".82" cx="1438" cy="1632" rx="29" ry="21"/>
<ellipse fill="#fff" fill-opacity=".29" cx="1682" cy="1575" rx="20" ry="22"/>
</g>
<g filter="url(#bl10_10)" fill="none">
<ellipse fill="#fff" fill-opacity=".24" cx="1439" cy="1630" rx="42" ry="35"/>
<ellipse fill="#fff" fill-opacity=".26" cx="1683" cy="1584" rx="34" ry="38"/>
</g>
<g filter="url(#bl7_7)" fill="none">
<ellipse fill="#000" fill-opacity=".31" cx="1378" cy="1708" rx="22" ry="13"/>
<ellipse fill="#fff" fill-opacity=".35" cx="1378" cy="1745" rx="18" ry="15"/>
</g>
<g filter="url(#bl5_5)" fill="none">
<ellipse fill="#fff" fill-opacity=".33" cx="1699" cy="1731" rx="5" ry="11"/>
<ellipse fill="#fff" fill-opacity=".28" cx="1437" cy="1183" rx="3" ry="6"/>
<ellipse fill="#fff" fill-opacity=".28" cx="1431" cy="1373" rx="3" ry="8"/>
</g>
</g></g>
<path fill="#262626" fill-rule="evenodd" d="M1314.3 1130.3H1958V1891.8H1314.3ZM1324.4 1138.8H1948V1882.2H1324.4Z"/>
<path d="M1406.1 1887.0v-12M1406.1 1135.0v11M1520.0 1887.0v-12M1520.0 1135.0v11M1634.0 1887.0v-12M1634.0 1135.0v11M1747.9 1887.0v-12M1747.9 1135.0v11M1861.8 1887.0v-12M1861.8 1135.0v11M1319.5 1773.1h12M1953.0 1773.1h-12M1319.5 1659.1h12M1953.0 1659.1h-12M1319.5 1545.2h12M1953.0 1545.2h-12M1319.5 1431.2h12M1953.0 1431.2h-12M1319.5 1317.3h12M1953.0 1317.3h-12M1319.5 1203.4h12M1953.0 1203.4h-12" stroke="#262626" stroke-width="8.5" fill="none"/>
<g font-size="68" letter-spacing="-1.5">
<g text-anchor="middle">
<text x="1404.1" y="1967.0">5</text>
<text x="1518.0" y="1967.0">10</text>
<text x="1632.0" y="1967.0">15</text>
<text x="1745.9" y="1967.0">20</text>
<text x="1859.8" y="1967.0">25</text>
</g><g text-anchor="end">
<text x="1295.5" y="1912.0">15</text>
<text x="1295.5" y="1798.1">20</text>
<text x="1295.5" y="1684.1">25</text>
<text x="1295.5" y="1570.2">30</text>
<text x="1295.5" y="1456.2">35</text>
<text x="1295.5" y="1342.3">40</text>
<text x="1295.5" y="1228.4">45</text>
</g></g>
<g font-size="73" text-anchor="middle">
<text x="1636.2" y="1123.0">(d)</text>
<text x="1636.8" y="2043.6" letter-spacing="1.1">East (m)</text>
<text transform="translate(1209.5 1511.0) rotate(-90)" letter-spacing="2.5">North (m)</text>
</g>
</g>
<g id="colorbar-1">
<g filter="url(#jet)"><rect x="2169.5" y="88" width="30" height="752.5" fill="url(#cbg)"/></g>
<rect x="2170.3" y="88.8" width="28.4" height="750.9" fill="none" stroke="#2b2b2b" stroke-width="1.6" stroke-opacity=".9"/>
<path d="M2198.5 220.5h-8.5M2198.5 412.3h-8.5M2198.5 604h-8.5M2198.5 795.8h-8.5" stroke="#2b2b2b" stroke-width="1.8" stroke-opacity=".85" fill="none"/>
<g font-size="62" letter-spacing="-2.2">
<text x="2217.5" y="243.7">5.61</text>
<text x="2217.5" y="435.5">5.605</text>
<text x="2217.5" y="627.2">5.6</text>
<text x="2217.5" y="819.0">5.595</text>
</g></g>
<g id="colorbar-2">
<g filter="url(#jet)"><rect x="2169.5" y="1132.5" width="30" height="755.5" fill="url(#cbg)"/></g>
<rect x="2170.3" y="1133.3" width="28.4" height="753.9" fill="none" stroke="#2b2b2b" stroke-width="1.6" stroke-opacity=".9"/>
<path d="M2198.5 1195h-8.5M2198.5 1320h-8.5M2198.5 1445h-8.5M2198.5 1570h-8.5M2198.5 1695h-8.5M2198.5 1820h-8.5" stroke="#2b2b2b" stroke-width="1.8" stroke-opacity=".85" fill="none"/>
<g font-size="62" letter-spacing="-2.2">
<text x="2217.5" y="1218.2">40</text>
<text x="2217.5" y="1343.2">20</text>
<text x="2217.5" y="1468.2">0</text>
<text x="2217.5" y="1593.2">-20</text>
<text x="2217.5" y="1718.2">-40</text>
<text x="2217.5" y="1843.2">-60</text>
</g></g>
<text x="2201.3" y="76.2" font-size="64">×</text><text x="2239.5" y="68.3" font-size="60" letter-spacing="-3">10</text><text x="2295.3" y="41.2" font-size="42">4</text>
<rect x="0" y="2056.6" width="2364" height="21" fill="#fff"/>
</svg></body></html>
